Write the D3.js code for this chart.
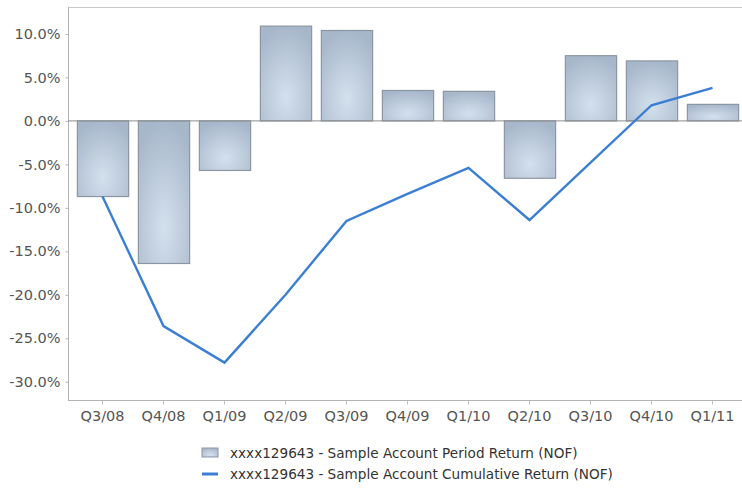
<!DOCTYPE html>
<html>
<head>
<meta charset="utf-8">
<script src="https://cdn.jsdelivr.net/npm/d3@7"></script>
<style>
  body { margin: 0; background: #fff; }
  text { font-family: "DejaVu Sans", Verdana, sans-serif; fill: #555; }
</style>
</head>
<body>
<script>
var width = 742;
var height = 489;

// quarters and returns (%)
var quarters = ["Q3/08", "Q4/08", "Q1/09", "Q2/09", "Q3/09", "Q4/09", "Q1/10", "Q2/10", "Q3/10", "Q4/10", "Q1/11"];
var periodReturn = [-8.7, -16.4, -5.7, 10.9, 10.4, 3.5, 3.4, -6.6, 7.5, 6.9, 1.9];
var cumulativeReturn = [-8.7, -23.6, -27.8, -20.0, -11.5, -8.4, -5.4, -11.4, -4.8, 1.8, 3.8];
var yTicks = [-30, -25, -20, -15, -10, -5, 0, 5, 10];
var seriesNames = ["xxxx129643 - Sample Account Period Return (NOF)",
                   "xxxx129643 - Sample Account Cumulative Return (NOF)"];

var svg = d3.select("body").append("svg")
  .attr("width", width)
  .attr("height", height);

var defs = svg.append("defs");
var grad = defs.append("radialGradient")
  .attr("id", "barFill")
  .attr("cx", "50%").attr("cy", "75%").attr("r", "75%");
grad.append("stop").attr("offset", "0%").attr("stop-color", "#d4e0ed");
grad.append("stop").attr("offset", "100%").attr("stop-color", "#a7b7ca");

var plotLeft = 68, plotTop = 7, plotRight = 742, plotBottom = 400;

var x = d3.scaleBand()
  .domain(quarters)
  .range([72, 743])
  .paddingInner(0.16)
  .paddingOuter(0.08);

var y = d3.scaleLinear()
  .domain([-32.1, 13.1])
  .range([plotBottom, plotTop]);

// frame
svg.append("line")
  .attr("x1", plotLeft).attr("x2", plotRight)
  .attr("y1", plotTop + 0.5).attr("y2", plotTop + 0.5)
  .style("stroke", "#c8c8c8");

// y axis
var yAxis = svg.append("g")
  .attr("transform", "translate(" + (plotLeft + 0.5) + ",0)")
  .call(d3.axisLeft(y).tickValues(yTicks).tickSize(3).tickPadding(5)
    .tickFormat(function (d) { return d.toFixed(1) + "%"; }));
yAxis.select(".domain").attr("d", "M0," + plotTop + "V" + plotBottom).style("stroke", "#b4b4b4");
yAxis.selectAll(".tick line").style("stroke", "#b4b4b4");
yAxis.selectAll("text").style("font-size", "14.5px").style("fill", "#555");

// x axis
var xAxis = svg.append("g")
  .attr("transform", "translate(0," + (plotBottom + 0.5) + ")")
  .call(d3.axisBottom(x).tickSize(4).tickPadding(6));
xAxis.select(".domain").attr("d", "M" + plotLeft + ",0H" + plotRight).style("stroke", "#b4b4b4");
xAxis.selectAll(".tick line").style("stroke", "#c0c0c0");
xAxis.selectAll("text").style("font-size", "14.5px").style("fill", "#555");

// bars
svg.selectAll(".bar")
  .data(periodReturn)
  .enter().append("rect")
  .attr("class", "bar")
  .attr("x", function (d, i) { return x(quarters[i]) + 0.5; })
  .attr("width", x.bandwidth())
  .attr("y", function (d) { return y(Math.max(0, d)); })
  .attr("height", function (d) { return Math.abs(y(d) - y(0)); })
  .style("fill", "url(#barFill)")
  .style("stroke", "#8c96a2")
  .style("stroke-width", 1.2);

// zero line
svg.append("line")
  .attr("x1", plotLeft).attr("x2", plotRight)
  .attr("y1", y(0)).attr("y2", y(0))
  .style("stroke", "#8c8c8c");

// cumulative line
var line = d3.line()
  .x(function (d, i) { return x(quarters[i]) + x.bandwidth() / 2; })
  .y(function (d) { return y(d); });

svg.append("path")
  .datum(cumulativeReturn)
  .attr("d", line)
  .style("fill", "none")
  .style("stroke", "#3b7fd4")
  .style("stroke-width", 2.4);

// legend
var legend = svg.append("g").attr("transform", "translate(202,0)");
legend.append("rect")
  .attr("x", 0).attr("y", 448).attr("width", 16).attr("height", 9)
  .style("fill", "url(#barFill)")
  .style("stroke", "#8c96a2");
legend.append("line")
  .attr("x1", 0).attr("x2", 16).attr("y1", 474).attr("y2", 474)
  .style("stroke", "#3b7fd4")
  .style("stroke-width", 3);
legend.selectAll(".legend-label")
  .data(seriesNames)
  .enter().append("text")
  .attr("class", "legend-label")
  .attr("x", 28)
  .attr("y", function (d, i) { return 453 + i * 21; })
  .attr("dy", "0.35em")
  .style("font-size", "13.6px")
  .style("fill", "#333")
  .text(function (d) { return d; });
</script>
</body>
</html>
